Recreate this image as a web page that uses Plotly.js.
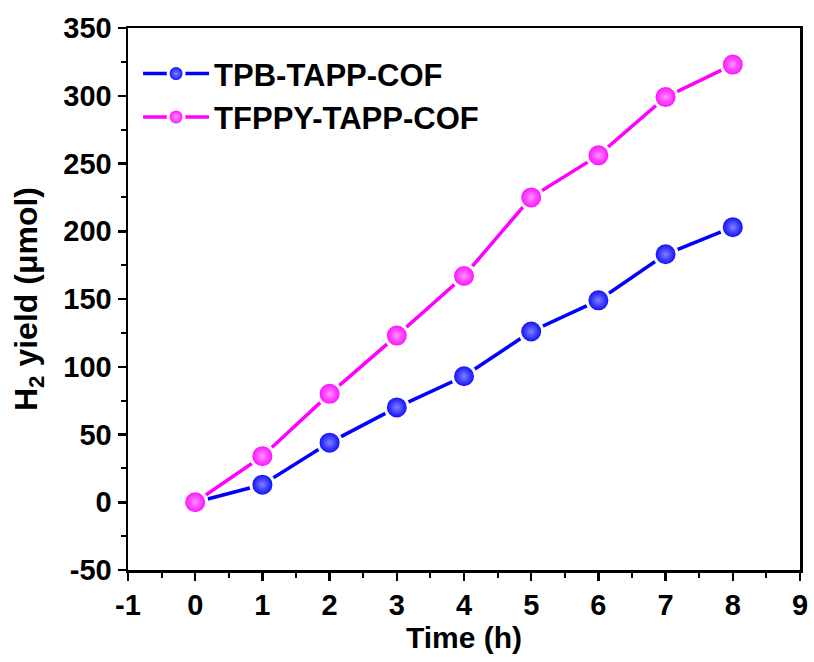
<!DOCTYPE html>
<html>
<head>
<meta charset="utf-8">
<script src="https://cdn.plot.ly/plotly-3.0.1.min.js"></script>
<style>html,body{margin:0;padding:0;background:#fff;}#chart{width:814px;height:662px;}</style>
</head>
<body>
<div id="chart"></div>
<script>
const timeH = [0, 1, 2, 3, 4, 5, 6, 7, 8];
const tpbYield = [0, 13, 44, 70, 93, 126, 149, 183, 203];
const tfppyYield = [0, 34, 80, 123, 167, 225, 256, 299, 323];
const seriesNames = ["TPB-TAPP-COF", "TFPPY-TAPP-COF"];
const xTickVals = [-1, 0, 1, 2, 3, 4, 5, 6, 7, 8, 9];
const xTickText = ["-1", "0", "1", "2", "3", "4", "5", "6", "7", "8", "9"];
const yTickVals = [-50, 0, 50, 100, 150, 200, 250, 300, 350];
const yTickText = ["-50", "0", "50", "100", "150", "200", "250", "300", "350"];

const font = {family: "Liberation Sans, Arial, sans-serif", color: "#000"};

function mk(y, name, color, light) {
  return {
    x: timeH, y: y, name: name, type: "scatter", mode: "lines+markers",
    line: {color: color, width: 3.5},
    marker: {size: 23, color: color, line: {color: "#fff", width: 3},
             gradient: {type: "radial", color: light}}
  };
}

const data = [
  mk(tpbYield, seriesNames[0], "#0000ff", "#8080ff"),
  mk(tfppyYield, seriesNames[1], "#ff00ff", "#ff90ff")
];

const axisCommon = {
  showgrid: false, zeroline: false, showline: true, linecolor: "#000", linewidth: 2.5,
  mirror: true, ticks: "outside", ticklen: 8, tickwidth: 2.5, tickcolor: "#000",
  tickfont: Object.assign({size: 29, weight: "bold"}, font)
};

const layout = {
  width: 814, height: 662,
  margin: {l: 128, r: 14, t: 28, b: 92},
  paper_bgcolor: "#fff", plot_bgcolor: "#fff",
  showlegend: true,
  legend: {x: 0.015, y: 0.965, xanchor: "left", yanchor: "top", bgcolor: "rgba(0,0,0,0)",
           itemwidth: 66, tracegroupgap: 0,
           font: Object.assign({size: 31, weight: "bold"}, font)},
  xaxis: Object.assign({}, axisCommon, {
    range: [-1, 9], tickmode: "array", tickvals: xTickVals, ticktext: xTickText,
    minor: {ticks: "outside", ticklen: 5, tickwidth: 2, dtick: 0.5, tick0: -1, tickcolor: "#000"},
    title: {text: "Time (h)", font: Object.assign({size: 30, weight: "bold"}, font), standoff: 0}
  }),
  yaxis: Object.assign({}, axisCommon, {
    range: [-50, 350], tickmode: "array", tickvals: yTickVals, ticktext: yTickText,
    minor: {ticks: "outside", ticklen: 5, tickwidth: 2, dtick: 25, tick0: -50, tickcolor: "#000"},
    title: {text: "H<sub>2</sub> yield (μmol)", font: Object.assign({size: 32, weight: "bold"}, font), standoff: 16}
  })
};

Plotly.newPlot("chart", data, layout, {displayModeBar: false, staticPlot: true});
</script>
</body>
</html>
